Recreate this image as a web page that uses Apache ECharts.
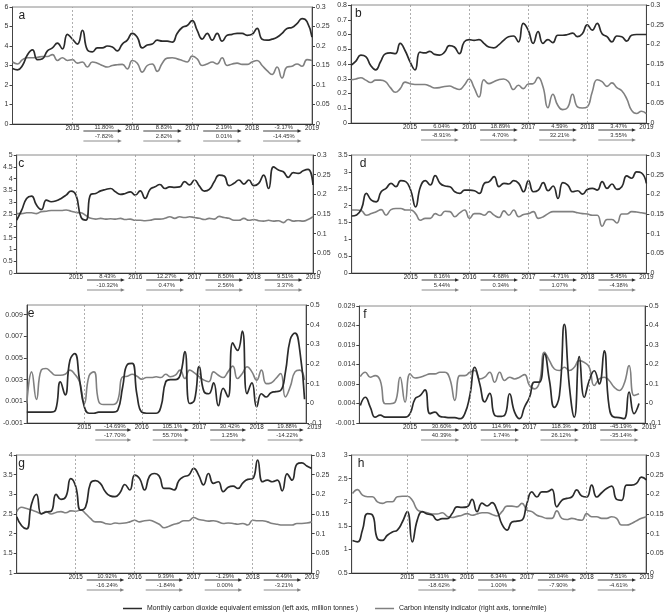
<!DOCTYPE html>
<html><head><meta charset="utf-8">
<script src="https://cdn.jsdelivr.net/npm/echarts@6/dist/echarts.min.js"></script>
<style>html,body{margin:0;padding:0;background:#fff}#c{width:667px;height:614px}</style>
</head><body><div id="c"></div>
<script>
const years = ['2015','2016','2017','2018','2019'];
const yearMonths = [12,24,36,48,60];
const emName = 'Monthly carbon dioxide equivalent emission (left axis, million tonnes )';
const ciName = 'Carbon intensity indicator (right axis, tonne/mile)';

const aEmission = [2.85,2.78,3.0,3.55,3.8,3.3,3.35,3.75,3.9,4.15,3.85,4.6,4.35,4.1,4.8,3.8,3.7,3.9,3.9,4.0,3.95,3.75,4.1,4.3,4.65,4.45,3.9,4.05,4.1,4.3,4.25,4.25,4.2,4.65,4.95,5.05,5.3,4.8,4.35,4.65,4.3,4.65,4.25,4.55,4.6,4.65,4.65,4.55,4.6,4.9,4.35,4.3,4.35,4.45,4.65,4.9,4.95,5.15,5.4,5.25,4.45];
const aIntensity = [0.159,0.154,0.165,0.17,0.17,0.171,0.173,0.173,0.178,0.163,0.17,0.163,0.165,0.156,0.159,0.146,0.159,0.156,0.15,0.146,0.15,0.152,0.153,0.141,0.163,0.156,0.133,0.15,0.154,0.135,0.156,0.169,0.17,0.167,0.163,0.159,0.174,0.167,0.15,0.154,0.159,0.154,0.17,0.15,0.154,0.156,0.153,0.153,0.159,0.163,0.15,0.137,0.127,0.146,0.118,0.146,0.148,0.154,0.148,0.165,0.163];
const bEmission = [0.392,0.42,0.46,0.45,0.39,0.36,0.415,0.47,0.475,0.47,0.54,0.49,0.415,0.36,0.48,0.475,0.485,0.465,0.46,0.48,0.525,0.515,0.47,0.55,0.565,0.56,0.565,0.54,0.515,0.51,0.53,0.56,0.585,0.59,0.55,0.675,0.63,0.54,0.62,0.54,0.565,0.545,0.595,0.595,0.6,0.61,0.585,0.605,0.665,0.63,0.675,0.605,0.585,0.55,0.59,0.585,0.555,0.595,0.6,0.6,0.6];
const bIntensity = [0.11,0.112,0.115,0.109,0.103,0.109,0.109,0.105,0.09,0.078,0.0875,0.104,0.1,0.098,0.098,0.098,0.094,0.089,0.09,0.093,0.094,0.089,0.085,0.096,0.112,0.09,0.066,0.11,0.1,0.105,0.11,0.112,0.105,0.085,0.096,0.0875,0.099,0.1,0.116,0.092,0.039,0.073,0.045,0.034,0.039,0.073,0.041,0.038,0.041,0.079,0.11,0.105,0.093,0.102,0.09,0.082,0.062,0.032,0.024,0.03,0.024];
const cEmission = [2.24,2.66,3.16,3.26,2.88,2.69,3.09,3.02,3.06,3.16,3.3,3.47,3.3,2.38,2.24,3.33,3.37,3.48,3.54,3.58,3.44,3.33,3.37,3.44,3.3,3.48,3.16,3.54,3.65,3.75,3.58,3.65,3.63,3.65,3.87,3.73,3.94,3.68,3.47,3.54,3.87,4.15,4.11,3.7,3.8,3.94,3.77,3.94,3.7,3.8,4.15,3.58,4.5,4.36,4.29,4.05,4.25,4.22,4.33,4.39,3.73];
const cIntensity = [0.151,0.151,0.153,0.153,0.151,0.156,0.157,0.159,0.159,0.159,0.16,0.157,0.154,0.153,0.146,0.139,0.137,0.139,0.137,0.138,0.137,0.139,0.136,0.137,0.134,0.134,0.133,0.134,0.137,0.137,0.139,0.143,0.139,0.143,0.141,0.143,0.141,0.139,0.136,0.139,0.137,0.144,0.141,0.139,0.134,0.134,0.139,0.134,0.136,0.133,0.132,0.134,0.132,0.133,0.128,0.136,0.132,0.133,0.132,0.136,0.143];
const dEmission = [1.69,1.72,1.91,2.36,2.16,2.11,2.41,2.51,2.66,2.56,2.74,2.71,2.46,1.96,2.56,2.74,2.61,2.89,2.66,2.58,2.56,2.41,2.36,2.46,2.46,2.44,2.36,2.66,2.71,2.86,2.56,2.66,2.64,2.74,2.66,2.41,2.74,2.41,2.46,2.68,2.44,2.58,2.21,2.68,2.61,2.41,2.44,2.34,2.48,2.51,2.46,2.71,2.51,2.64,2.48,2.56,2.88,2.81,3.0,2.97,2.66];
const dIntensity = [0.16,0.16,0.158,0.147,0.151,0.156,0.161,0.147,0.161,0.164,0.164,0.16,0.16,0.151,0.134,0.139,0.139,0.151,0.146,0.157,0.156,0.143,0.153,0.16,0.139,0.151,0.151,0.147,0.156,0.147,0.141,0.158,0.147,0.16,0.143,0.149,0.151,0.156,0.139,0.143,0.151,0.156,0.156,0.156,0.156,0.156,0.153,0.151,0.15,0.147,0.147,0.119,0.136,0.136,0.127,0.15,0.15,0.156,0.155,0.153,0.151];
const eEmission = [0,0,0,0,0,0,0.0002,0.0028,0.0016,0.0048,0.0054,0.003,0.0005,-0.0001,-0.0001,0,0,0,0,0.0002,0.0023,0.0044,0.0045,0.0016,0,-0.0001,-0.0001,-0.0001,0.0005,0.0028,0.003,0.003,0.0034,0.0056,0.0008,0.0011,0.0042,0.0019,0.0017,0.0027,0.0006,0.0022,0.0014,0.0064,0.0057,0.0075,0.0017,0.0027,0.0005,0.0017,0.0014,0.0018,0.0019,0.002,0.0037,0.0067,0.0073,0.0057,0.0012];
const eIntensity = [0,0.16,0.02,0.169,0.177,0.16,0.143,0.143,0.148,0.169,0.148,0.11,0.0,0.14,0.16,0.01,-0.006,-0.006,-0.006,0.016,0.135,0.138,0.148,0.138,0.123,0.131,0.131,0.135,0.131,0.148,0.135,0.143,0.169,0.126,0.169,0.155,0.135,0.118,0.11,0.16,0.143,0.131,0.16,0.189,0.126,0.152,0.186,0.16,0.118,0.169,0.1,0.104,0.126,0.152,0.033,0.084,0.16,0.169,0.118];
const fEmission = [0.0035,0.0056,0.0031,0.0005,0.001,0.0005,0.0005,0.0005,0.0005,0.0005,0.0014,0.0052,0.006,0.0075,0.0014,0.0018,0.0007,0.0005,0.0004,0.0004,0.0001,0.0014,0.006,0.0133,0.009,0.0044,0.0066,0.001,0.0007,0.001,0.0065,0.0018,0.0001,0.0031,0.0056,0.0095,0.0095,0.0167,0.0099,0.003,0.006,0.0243,0.0085,0.0005,0.016,0.0056,0.0099,0.0124,0.009,0.0175,0.0031,0.0005,0.0004,0.0001,0.0069,0.0014,0.004];
const fIntensity = [0.138,0.16,0.135,0.143,0.118,-0.001,-0.001,0.007,0.135,0.007,0.152,0.131,0.135,0.143,0.152,0.152,0.16,0.16,0.126,0.016,0.143,0.143,0.16,0.169,0.126,0.135,0.16,0.109,0.16,0.118,0.135,0.126,0.135,0.148,0.092,0.075,0.109,0.262,0.22,0.177,0.169,0.186,0.169,0.186,0.22,0.211,0.186,0.092,0.126,0.135,0.118,0.084,0.067,0.101,0.194,0.041,0.05];
const gEmission = [2.43,2.2,2.12,2.75,3.0,2.5,2.55,2.57,3.0,2.87,2.94,3.4,3.2,2.6,2.68,3.28,3.35,3.28,3.07,2.96,2.94,3.04,3.25,3.11,3.49,3.4,3.11,3.46,3.53,3.46,3.15,3.15,3.11,3.35,3.45,3.49,3.66,3.49,3.24,3.53,3.28,3.32,3.07,3.18,3.21,3.15,3.29,3.38,3.4,3.87,3.32,3.36,3.32,3.36,3.09,3.52,3.36,3.77,3.8,3.72,3.66];
const gIntensity = [0.156,0.167,0.164,0.16,0.156,0.151,0.156,0.15,0.154,0.156,0.153,0.158,0.157,0.16,0.151,0.139,0.13,0.13,0.126,0.124,0.127,0.126,0.127,0.13,0.134,0.13,0.133,0.134,0.13,0.124,0.115,0.119,0.124,0.127,0.133,0.133,0.141,0.136,0.134,0.132,0.133,0.13,0.126,0.127,0.126,0.124,0.126,0.122,0.134,0.133,0.133,0.13,0.126,0.124,0.122,0.122,0.122,0.126,0.126,0.127,0.13];
const hEmission = [1.19,1.16,1.41,1.76,1.73,1.23,1.19,1.3,1.37,1.41,1.58,1.8,1.16,1.62,1.8,1.75,1.73,1.62,1.65,1.65,1.76,1.9,1.89,1.9,2.06,1.8,1.98,1.92,1.99,1.83,1.53,1.41,1.58,1.6,1.62,1.97,2.22,2.11,2.22,2.22,2.27,1.9,2.04,2.08,2.11,2.26,2.13,2.11,2.36,2.11,2.2,2.29,2.34,2.06,2.04,2.36,2.36,2.4,2.53,2.47];
const hIntensity = [0.202,0.212,0.198,0.194,0.194,0.181,0.177,0.181,0.181,0.194,0.195,0.195,0.185,0.161,0.156,0.153,0.15,0.15,0.153,0.144,0.141,0.144,0.147,0.151,0.147,0.15,0.153,0.153,0.149,0.145,0.156,0.17,0.17,0.168,0.177,0.16,0.156,0.147,0.143,0.139,0.139,0.158,0.139,0.136,0.139,0.136,0.134,0.151,0.143,0.143,0.139,0.139,0.143,0.139,0.122,0.122,0.126,0.133,0.139,0.143];

const aUp = ['11.80%','8.83%','2.19%','-3.17%'], aDown = ['-7.82%','2.82%','0.01%','-14.45%'];
const bUp = ['6.04%','18.89%','4.59%','3.47%'], bDown = ['-8.91%','4.70%','32.21%','3.55%'];
const cUp = ['8.43%','12.27%','8.50%','9.51%'], cDown = ['-10.32%','0.47%','2.56%','3.37%'];
const dUp = ['8.16%','4.68%','-4.71%','5.45%'], dDown = ['5.44%','0.34%','1.07%','-4.38%'];
const eUp = ['-14.69%','105.1%','30.42%','19.88%'], eDown = ['-17.70%','55.70%','1.25%','-14.22%'];
const fUp = ['30.60%','114.9%','118.3%','-45.19%'], fDown = ['40.39%','1.74%','26.12%','-35.14%'];
const gUp = ['10.92%','9.39%','-1.29%','4.49%'], gDown = ['-16.24%','-1.84%','0.00%','-3.21%'];
const hUp = ['15.31%','6.34%','20.04%','7.51%'], hDown = ['-18.62%','1.00%','-7.90%','-4.61%'];

const eLeftTicks = [-0.001,0.001,0.003,0.005,0.007,0.009];
const fLeftTicks = [-0.001,0.004,0.009,0.014,0.019,0.024,0.029];

const R03 = {min:0,max:0.3,interval:0.05};
const R05 = {min:-0.1,max:0.5,interval:0.1};
const panels = [
 {letter:'a', em:aEmission, ci:aIntensity, start:0, up:aUp, down:aDown, box:[12.5,7,312,124], xr:[0,60], L:{min:0,max:6,interval:1}, R:R03, ldx:6},
 {letter:'b', em:bEmission, ci:bIntensity, start:0, up:bUp, down:bDown, box:[351,5,648,123], xr:[0,60], L:{min:0,max:0.8,interval:0.1}, R:R03, ldx:4},
 {letter:'c', em:cEmission, ci:cIntensity, start:0, up:cUp, down:cDown, box:[12.3,155,313,273], xr:[0,60], L:{min:0,max:5,interval:0.5}, R:R03, ldx:6},
 {letter:'d', em:dEmission, ci:dIntensity, start:0, up:dUp, down:dDown, box:[351.7,155,650,273], xr:[0,60], L:{min:0,max:3.5,interval:0.5}, R:R03, ldx:8},
 {letter:'e', em:eEmission, ci:eIntensity, start:0, up:eUp, down:eDown, box:[14.7,305,306,423], xr:[0,58.3], L:{min:-0.001,max:0.0099,custom:eLeftTicks}, R:R05, ldx:13},
 {letter:'f', em:fEmission, ci:fIntensity, start:2, up:fUp, down:fDown, box:[359.3,306,645,423], xr:[1.8,59.2], L:{min:-0.001,max:0.029,custom:fLeftTicks}, R:R05, ldx:4},
 {letter:'g', em:gEmission, ci:gIntensity, start:0, up:gUp, down:gDown, box:[12.3,455,311.7,573], xr:[0,60], L:{min:1,max:4,interval:0.5}, R:R03, ldx:6},
 {letter:'h', em:hEmission, ci:hIntensity, start:1, up:hUp, down:hDown, box:[351.7,455,646,573], xr:[0.84,59.9], L:{min:0.5,max:3,interval:0.5}, R:R03, ldx:6}
];

const FONT = '"Liberation Sans", Arial, sans-serif';
const DARK = '#2b2b2b', GRAY = '#808080';
const fmt = v => String(+(+v).toFixed(4));

const grids = [], xAxes = [], yAxes = [], series = [];
panels.forEach((p, i) => {
  grids.push({left:p.box[0], top:p.box[1], width:p.box[2]-p.box[0], height:p.box[3]-p.box[1],
    show:true, borderColor:'#8a8a8a', borderWidth:1, containLabel:false});
  xAxes.push({type:'value', gridIndex:i, min:p.xr[0], max:p.xr[1],
    axisLine:{show:true, onZero:false, lineStyle:{color:'#333', width:1}},
    axisTick:{show:false}, axisLabel:{show:false}, splitLine:{show:false}});
  const mkY = (cfg, pos) => {
    const ax = {type:'value', gridIndex:i, position:pos, min:cfg.min, max:cfg.max,
      axisLine:{show:true, lineStyle:{color:'#444', width:1}},
      axisTick:{show:true, inside:false, length:3, lineStyle:{color:'#444'}},
      axisLabel:{show:true, fontSize:7, fontFamily:FONT, color:'#333', margin:4, formatter:fmt},
      splitLine:{show:false}};
    if (cfg.custom) { ax.axisLabel.customValues = cfg.custom; ax.axisTick.customValues = cfg.custom; }
    else ax.interval = cfg.interval;
    return ax;
  };
  yAxes.push(mkY(p.L, 'left'));
  yAxes.push(mkY(p.R, 'right'));
  series.push({type:'line', name:ciName, xAxisIndex:i, yAxisIndex:2*i+1, smooth:0.5, showSymbol:false, symbol:'none',
    lineStyle:{color:GRAY, width:1.6}, itemStyle:{color:GRAY},
    data:p.ci.map((v,k)=>[p.start+k, v])});
  series.push({type:'line', name:emName, xAxisIndex:i, yAxisIndex:2*i, smooth:0.5, showSymbol:false, symbol:'none',
    lineStyle:{color:DARK, width:1.7}, itemStyle:{color:DARK},
    data:p.em.map((v,k)=>[p.start+k, v]),
    markLine:{silent:true, symbol:['none','none'], label:{show:false},
      lineStyle:{color:'#9a9a9a', type:[2,2], width:0.8},
      data:yearMonths.slice(0,4).map(m=>({xAxis:m}))}});
});

const chart = echarts.init(document.getElementById('c'), null, {renderer:'canvas'});
chart.setOption({
  animation:false,
  backgroundColor:'#fff',
  grid:grids, xAxis:xAxes, yAxis:yAxes, series:series,
  legend:{show:true, selectedMode:false, left:118, top:600, icon:'rect', itemWidth:19, itemHeight:1.5, itemGap:17,
    textStyle:{fontSize:6.9, fontFamily:FONT, color:'#222'},
    data:[{name:emName, itemStyle:{color:DARK}}, {name:ciName, itemStyle:{color:GRAY}}]}
});

const gfx = [];
panels.forEach((p, i) => {
  const bottom = p.box[3];
  const xs = yearMonths.map(m => chart.convertToPixel({xAxisIndex:i}, m));
  years.forEach((y,k) => gfx.push({type:'text', x:xs[k], y:bottom+4.6,
    style:{text:y, align:'center', verticalAlign:'middle', font:'6.3px '+FONT, fill:'#222'}}));
  for (let k=0;k<4;k++){
    const x0 = xs[k]+11, x1 = xs[k+1]-10.5, mid=(x0+x1)/2+1.5;
    [[bottom+7, DARK, p.up[k], bottom+3.5], [bottom+17, GRAY, p.down[k], bottom+12.8]].forEach(([ly,col,txt,ty])=>{
      gfx.push({type:'line', shape:{x1:x0, y1:ly, x2:x1-3, y2:ly}, style:{stroke:col, lineWidth:0.9}});
      gfx.push({type:'polygon', shape:{points:[[x1,ly],[x1-4,ly-1.7],[x1-4,ly+1.7]]}, style:{fill:col}});
      gfx.push({type:'text', x:mid, y:ty, style:{text:txt, align:'center', verticalAlign:'middle', font:'5.8px '+FONT, fill:'#333'}});
    });
  }
  gfx.push({type:'text', x:p.box[0]+p.ldx, y:p.box[1]+9, style:{text:p.letter, align:'left', verticalAlign:'middle', font:'12px '+FONT, fill:'#222'}});
});
chart.setOption({graphic:gfx});
</script>
</body></html>
